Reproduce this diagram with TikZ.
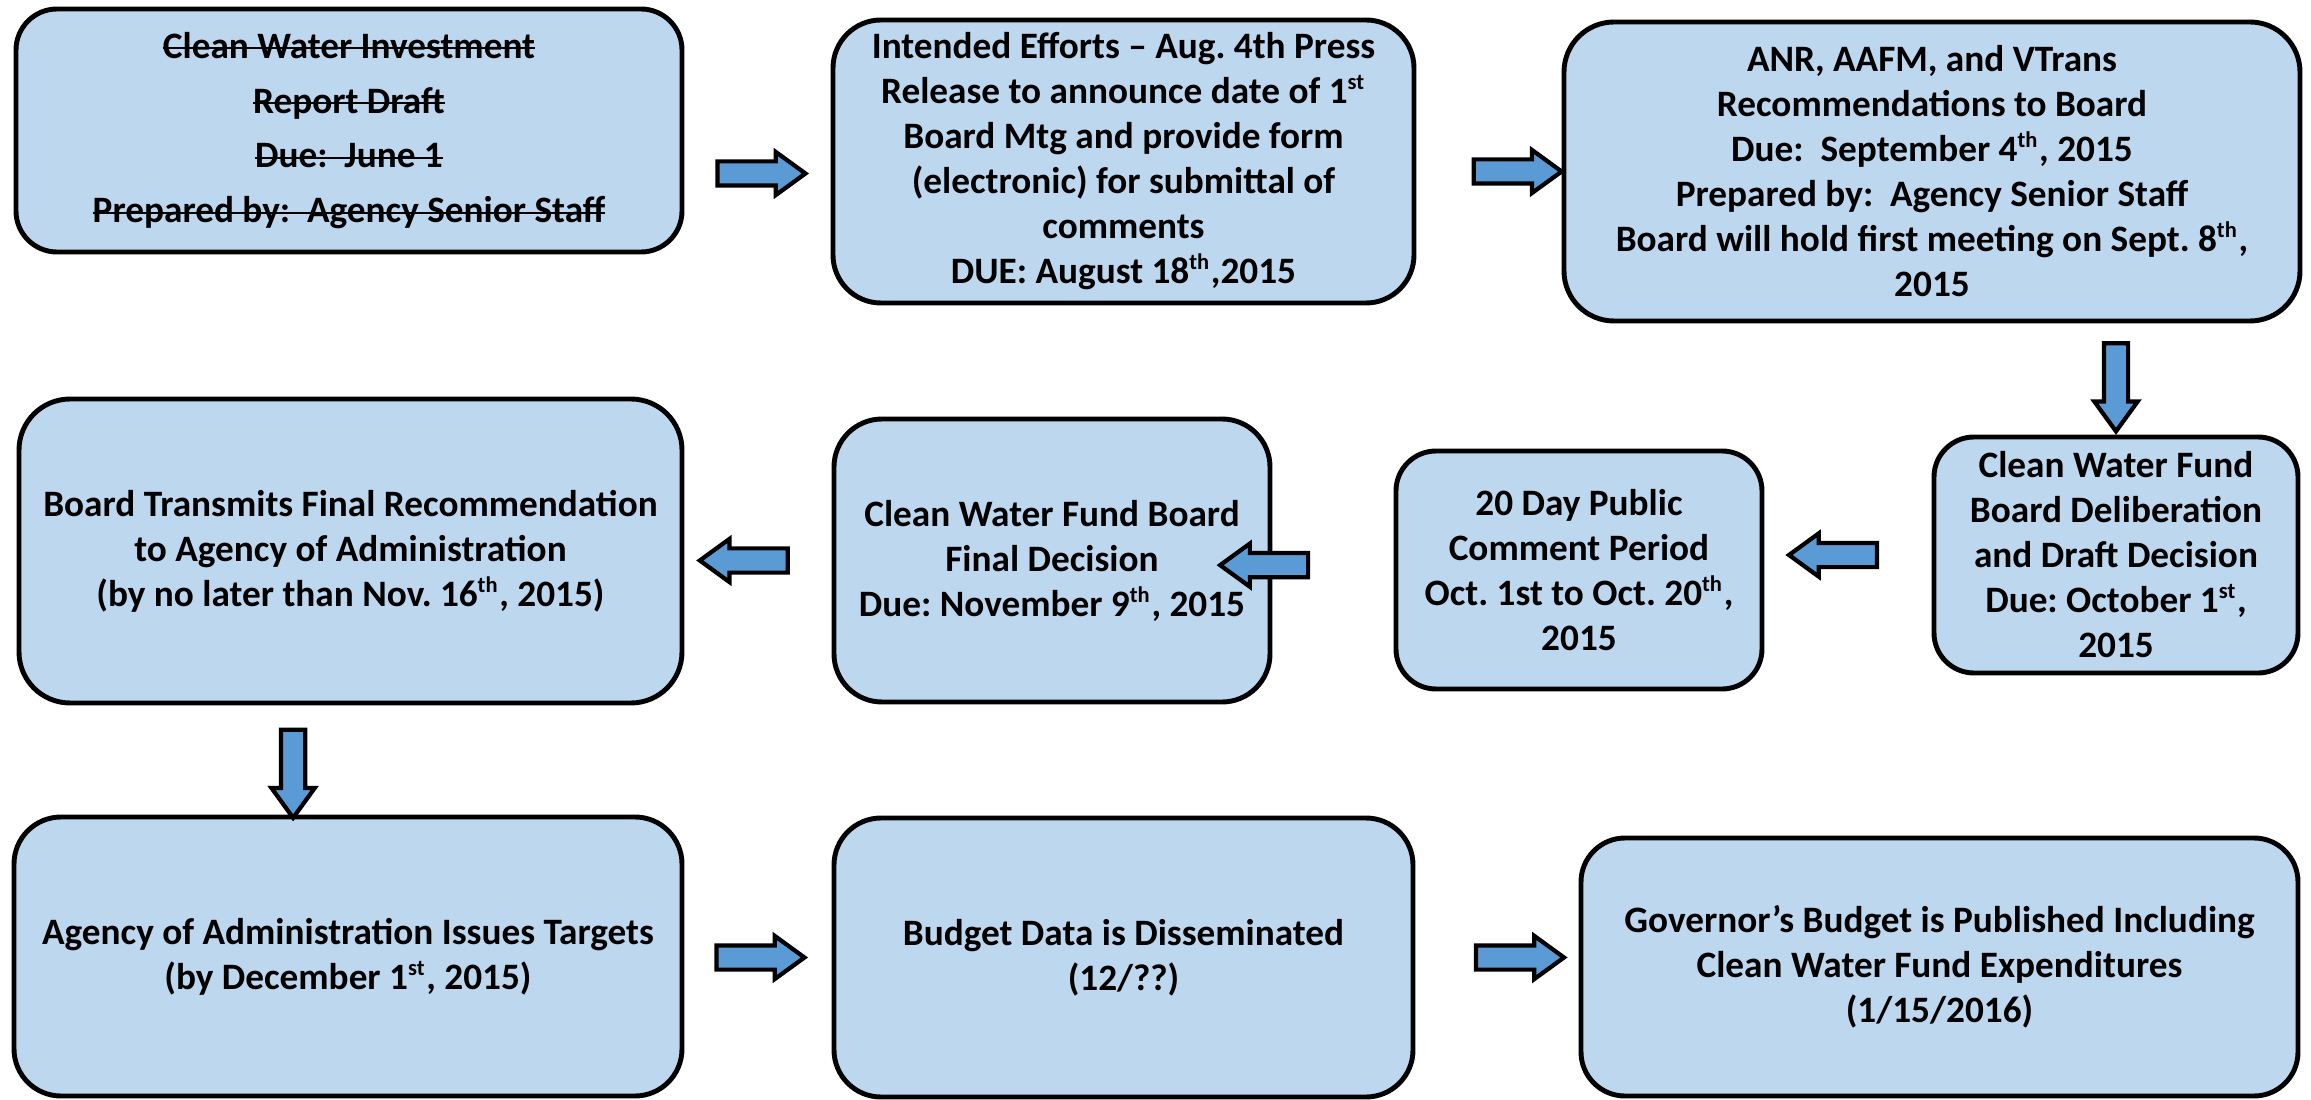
\documentclass[tikz,border=0pt]{standalone}
\usepackage{fontspec}
\setmainfont{Carlito}
\usepackage{tikz}
\usetikzlibrary{shapes.arrows,calc}
\definecolor{boxblue}{HTML}{BDD7EE}
\definecolor{arrowblue}{HTML}{5B9BD5}
\newcommand{\strk}[1]{\setbox0\hbox{#1}\rlap{\rule[0.24em]{\wd0}{0.6pt}}\box0}
\newcommand{\ord}[1]{\textsuperscript{\fontsize{6.4}{6}\selectfont #1}}
\frenchspacing

\begin{document}
\begin{tikzpicture}[
    stage/.style={draw=black, line width=1.4pt, fill=boxblue, rounded corners=#1, align=center, inner sep=0pt,
      font=\fontsize{10.6}{12.8}\selectfont\bfseries},
    stage/.default=0.45cm,
    flow/.style={single arrow, draw=black, fill=arrowblue, line width=1.2pt, inner sep=0.1cm,
      minimum height=0.88cm, minimum width=0.39cm, single arrow head extend=0.095cm,
      single arrow tip angle=72, shape border rotate=#1},
    flow/.default=0]
  \useasboundingbox (0,0) rectangle (23.11,-11);

  % first row
  \node[stage=0.41cm, minimum width=6.66cm, minimum height=2.43cm,
        font=\fontsize{10.6}{15.6}\selectfont\bfseries] (draft) at (3.49,-1.305)
    {\strk{Clean Water Investment}\\ \strk{Report Draft}\\ \strk{Due:\ \ June 1}\\ \strk{Prepared by:\ \ Agency Senior Staff}};
  \node[stage=0.48cm, minimum width=5.81cm, minimum height=2.83cm] (release) at (11.235,-1.615)
    {Intended Efforts -- Aug. 4th Press\\ Release to announce date of 1\ord{st}\\ Board Mtg and provide form\\
     (electronic) for submittal of\\ comments\\ DUE: August 18\ord{th},2015};
  \node[stage=0.5cm, minimum width=7.36cm, minimum height=2.99cm] (recs) at (19.32,-1.715)
    {ANR, AAFM, and VTrans\\ Recommendations to Board\\ Due:\ \ September 4\ord{th}, 2015\\
     Prepared by:\ \ Agency Senior Staff\\ Board will hold first meeting on Sept. 8\ord{th},\\ 2015};

  % second row
  \node[stage=0.4cm, minimum width=3.64cm, minimum height=2.36cm] (deliberation) at (21.16,-5.55)
    {Clean Water Fund\\ Board Deliberation\\ and Draft Decision\\ Due: October 1\ord{st},\\ 2015};
  \node[stage=0.4cm, minimum width=3.66cm, minimum height=2.38cm] (comment) at (15.79,-5.70)
    {20 Day Public\\ Comment Period\\ Oct. 1st to Oct. 20\ord{th},\\ 2015};
  \node[stage=0.48cm, minimum width=4.36cm, minimum height=2.83cm] (decision) at (10.52,-5.605)
    {Clean Water Fund Board\\ Final Decision\\ Due: November 9\ord{th}, 2015};
  \node[stage=0.51cm, minimum width=6.63cm, minimum height=3.04cm] (transmit) at (3.505,-5.51)
    {Board Transmits Final Recommendation\\ to Agency of Administration\\ (by no later than Nov. 16\ord{th}, 2015)};

  % third row
  \node[stage=0.47cm, minimum width=6.68cm, minimum height=2.79cm] (targets) at (3.48,-9.565)
    {Agency of Administration Issues Targets\\ (by December 1\ord{st}, 2015)};
  \node[stage=0.47cm, minimum width=5.79cm, minimum height=2.79cm] (budgetdata) at (11.235,-9.575)
    {Budget Data is Disseminated\\ (12/??)};
  \node[stage=0.44cm, minimum width=7.17cm, minimum height=2.58cm] (governor) at (19.395,-9.67)
    {Governor’s Budget is Published Including\\ Clean Water Fund Expenditures\\ (1/15/2016)};

  % block arrows
  \path ([yshift=-1.2mm]release.west -| draft.east) -- ([yshift=-1.2mm]release.west) node[pos=.47, flow] {};
  \path (release.east |- recs.west) -- (recs.west) node[pos=.64, flow] {};
  \path (recs.south -| deliberation.north) -- (deliberation.north) node[pos=.5, flow=270] {};
  \path (deliberation.west) -- (deliberation.west -| comment.east) node[pos=.54, flow=180] {};
  \path (comment.west -| decision.east) -- (decision.east) node[pos=.51, flow=180] {};
  \path (decision.west) -- (decision.west -| transmit.east) node[pos=.54, flow=180] {};
  \path ([xshift=-5.6mm]transmit.south) -- ([xshift=-5.6mm]targets.north) node[pos=.55, flow=270] {};
  \path (targets.east |- budgetdata.west) -- (budgetdata.west) node[pos=.46, flow] {};
  \path (budgetdata.east) -- (budgetdata.east -| governor.west) node[pos=.59, flow] {};
\end{tikzpicture}
\end{document}
